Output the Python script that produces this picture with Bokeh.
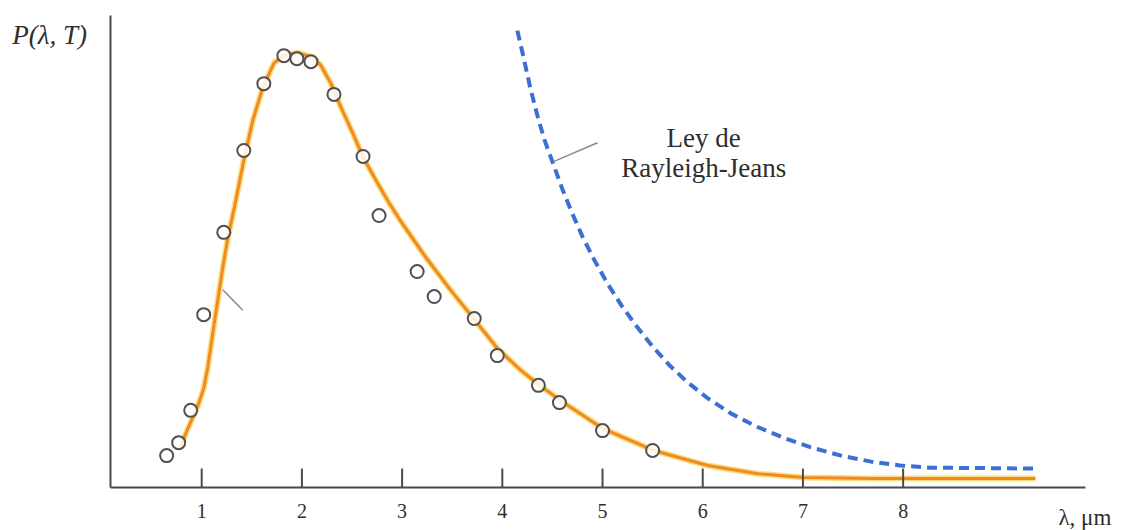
from bokeh.plotting import figure
from bokeh.models import Range1d
from bokeh.core.properties import value
from bokeh.embed import file_html
from bokeh.resources import INLINE

# ---- data ----
# measured points (wavelength in um, P in arbitrary units)
obs_lambda = [0.65, 0.77, 0.89, 1.02, 1.22, 1.42, 1.62, 1.82, 1.95, 2.09, 2.32,
              2.61, 2.77, 3.15, 3.32, 3.72, 3.95, 4.36, 4.57, 5.00, 5.50]
obs_p = [7.4, 10.4, 17.9, 40.1, 59.2, 78.2, 93.7, 100.2, 99.5, 98.8, 91.2,
         76.8, 63.1, 50.1, 44.3, 39.2, 30.6, 23.7, 19.7, 13.2, 8.6]

# Planck curve
planck_lambda = [0.79, 0.84, 0.91, 0.97, 1.02, 1.06, 1.11, 1.16, 1.21, 1.26, 1.33,
                 1.42, 1.51, 1.61, 1.72, 1.81, 1.96, 2.11, 2.19, 2.29, 2.39, 2.51,
                 2.61, 2.75, 2.87, 2.98, 3.23, 3.48, 3.72, 3.95, 4.18, 4.35, 4.61,
                 5.01, 5.51, 6.05, 6.55, 7.01, 7.70, 9.32]
planck_p = [9.3, 12.5, 16.2, 19.5, 23.0, 27.8, 35.7, 43.4, 51.0, 57.8, 65.4,
            75.9, 85.2, 92.8, 98.4, 100.2, 100.9, 99.8, 97.9, 93.7, 88.2, 82.1,
            76.6, 70.8, 66.0, 62.0, 53.6, 45.9, 39.0, 32.3, 27.3, 24.1, 19.7,
            13.6, 8.6, 5.1, 3.2, 2.3, 2.1, 2.1]

# Rayleigh-Jeans curve
rj_lambda = [4.15, 4.21, 4.28, 4.35, 4.42, 4.50, 4.59, 4.69, 4.80, 4.92, 5.05,
             5.19, 5.34, 5.50, 5.67, 5.85, 6.05, 6.28, 6.53, 6.80, 7.08, 7.38,
             7.68, 7.97, 8.27, 9.32]
rj_p = [106.0, 100.0, 92.6, 86.3, 80.7, 75.6, 69.8, 64.0, 58.2, 52.7, 47.3,
        42.2, 37.4, 32.7, 28.3, 24.4, 20.7, 17.2, 14.2, 11.6, 9.3, 7.4,
        6.0, 5.1, 4.6, 4.4]

x_ticks = [1, 2, 3, 4, 5, 6, 7, 8]
x_tick_labels = ["1", "2", "3", "4", "5", "6", "7", "8"]

SERIF = value("Liberation Serif")
AXIS_COLOR = "#4a4a4a"
TEXT_COLOR = "#2e2e2e"

# axis geometry (data units)
AX_X0, AX_X1 = 0.0898, 9.82
AX_Y0, AX_Y1 = 0.0, 109.5
TICK_LEN = 4.4
LABEL_Y = -5.4

p = figure(width=1135, height=530, output_backend="svg", toolbar_location=None,
           min_border=0, x_range=Range1d(-1.008, 10.319), y_range=Range1d(-9.977, 112.99))
p.outline_line_color = None
p.grid.visible = False
p.axis.visible = False
p.background_fill_color = "white"
p.border_fill_color = "white"

# axes drawn as lines
p.segment(x0=[AX_X0, AX_X0], y0=[AX_Y0, AX_Y0], x1=[AX_X1, AX_X0], y1=[AX_Y0, AX_Y1],
          line_color=AXIS_COLOR, line_width=2)

# Rayleigh-Jeans (dashed blue)
p.line(rj_lambda, rj_p, line_color="#3b6fd4", line_width=4, line_dash="10 6")

# Planck curve: yellow halo + orange core
p.line(planck_lambda, planck_p, line_color="#fbd35a", line_width=6, line_alpha=0.8)
p.line(planck_lambda, planck_p, line_color="#ef8a24", line_width=3)

# ticks (inside, drawn over the curve)
p.segment(x0=x_ticks, y0=[AX_Y0] * len(x_ticks), x1=x_ticks,
          y1=[AX_Y0 + TICK_LEN] * len(x_ticks), line_color=AXIS_COLOR, line_width=2)
p.text(x=x_ticks, y=[LABEL_Y] * len(x_ticks), text=x_tick_labels, text_font=SERIF,
       text_font_size="20px", text_color=TEXT_COLOR, text_align="center",
       text_baseline="middle")

# observed points
p.scatter(obs_lambda, obs_p, marker="circle", size=13, fill_color="white",
          fill_alpha=0.85, line_color="#505050", line_width=2)

# pointer lines
rj_ptr_x = [4.51, 4.95]
rj_ptr_y = [75.6, 80.0]
pl_ptr_x = [1.21, 1.41]
pl_ptr_y = [45.9, 41.1]
p.line(rj_ptr_x, rj_ptr_y, line_color="#8a8a8a", line_width=1.5)
p.line(pl_ptr_x, pl_ptr_y, line_color="#8a8a8a", line_width=1.5)

# texts
p.text(x=[6.01, 6.01], y=[81.0, 74.2], text=["Ley de", "Rayleigh-Jeans"],
       text_font=SERIF, text_font_size="27px", text_color=TEXT_COLOR,
       text_align="center", text_baseline="alphabetic")
p.text(x=[-0.89], y=[104.9], text=["P(λ, T)"], text_font=SERIF,
       text_font_style="italic", text_font_size="27px", text_color=TEXT_COLOR,
       text_align="left", text_baseline="alphabetic")
p.text(x=[9.55], y=[-6.9], text=["λ, μm"], text_font=SERIF,
       text_font_size="23px", text_color=TEXT_COLOR, text_align="left",
       text_baseline="alphabetic")

open("out.html", "w").write(file_html(p, INLINE))
